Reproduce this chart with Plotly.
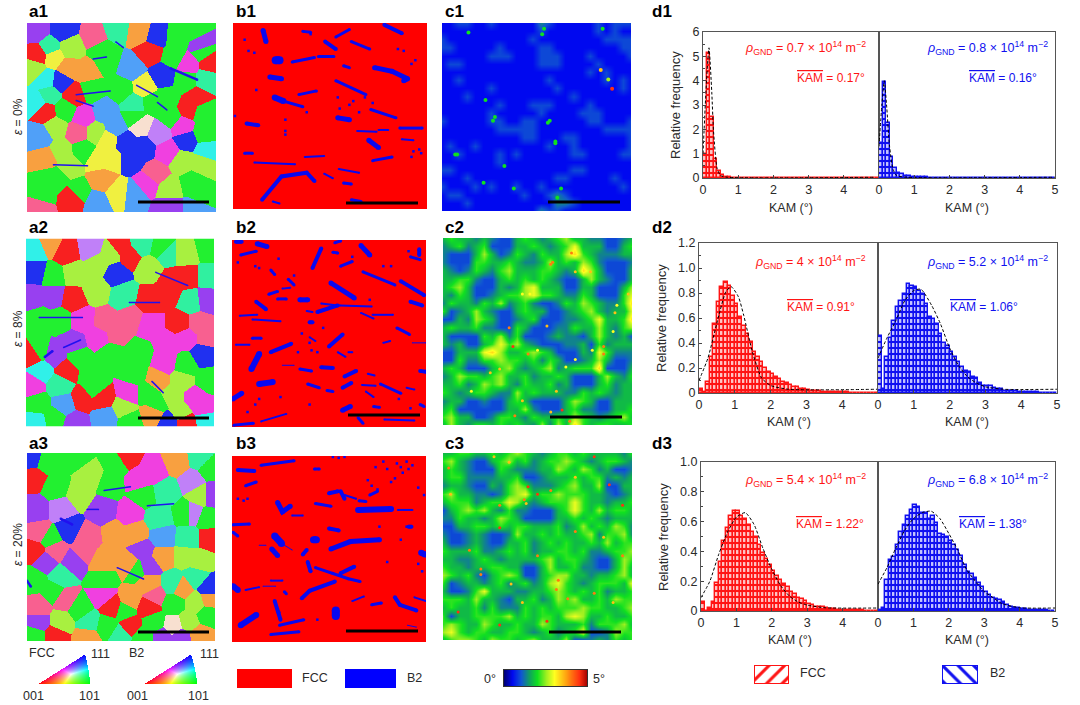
import numpy as np
import plotly.graph_objects as go

W, H = 1080, 705
FONT = "Liberation Sans"
TXT = "#2a2a2a"
FCC_RED = "#ff1414"
B2_BLUE = "#1010f0"

# --- orientation maps: grain centres (percent of panel) and colour letter ---
IPF_COLORS = dict(G="#22f030", L="#a8f040", Y="#f0f040", O="#f8a040", R="#f82020", P="#f86090",
                  M="#f040e0", V="#9840f0", B="#2030f0", S="#50a0f8", C="#30f0e8", T="#30f0a0",
                  W="#f8e0d0", K="#c080f8")
A1_GRAINS = [
    (5, 4, "V"), (12, 13, "T"), (19, 4, "B"), (23, 13, "L"), (36, 7, "P"), (47, 3, "T"), (40, 15, "G"), (68, 7, "B"),
    (60, 5, "O"), (80, 8, "G"), (92, 12, "V"), (88, 4, "G"), (6, 17, "R"), (14, 18, "Y"), (4, 24, "L"), (10, 30, "C"),
    (22, 24, "O"), (32, 26, "O"), (42, 20, "G"), (55, 24, "S"), (65, 15, "R"), (78, 18, "G"), (93, 15, "G"), (97, 21, "R"),
    (85, 22, "M"), (18, 31, "B"), (5, 42, "C"), (12, 38, "T"), (25, 38, "R"), (34, 35, "G"), (50, 35, "G"), (62, 34, "Y"),
    (72, 28, "B"), (84, 30, "G"), (95, 30, "T"), (74, 40, "G"), (66, 42, "G"), (10, 47, "R"), (20, 46, "G"), (30, 50, "M"),
    (41, 47, "S"), (57, 43, "T"), (57, 50, "G"), (76, 50, "G"), (90, 40, "R"), (93, 47, "G"), (86, 45, "R"), (15, 55, "L"),
    (27, 58, "P"), (36, 58, "L"), (47, 55, "S"), (60, 54, "W"), (70, 58, "K"), (82, 55, "M"), (94, 58, "G"), (7, 60, "S"),
    (18, 68, "L"), (30, 67, "G"), (43, 62, "Y"), (52, 63, "B"), (61, 66, "B"), (75, 68, "M"), (84, 62, "B"), (95, 68, "C"),
    (10, 72, "O"), (22, 75, "L"), (12, 82, "G"), (38, 72, "Y"), (44, 72, "Y"), (55, 72, "B"), (68, 80, "P"), (82, 73, "L"),
    (93, 74, "L"), (27, 90, "G"), (7, 90, "G"), (5, 97, "P"), (25, 92, "R"), (37, 95, "S"), (40, 83, "O"), (48, 90, "Y"),
    (57, 91, "S"), (64, 85, "M"), (75, 88, "L"), (88, 85, "G"), (92, 92, "G"), (15, 82, "G"), (75, 97, "V"), (90, 97, "S"),
]
A2_GRAINS = [
    (5, 5, "C"), (12, 2, "O"), (22, 7, "R"), (34, 5, "K"), (45, 8, "L"), (50, 4, "R"), (55, 9, "R"), (62, 3, "T"),
    (72, 5, "G"), (85, 8, "L"), (97, 5, "G"), (5, 18, "B"), (14, 20, "G"), (26, 18, "L"), (38, 13, "L"), (48, 18, "B"),
    (66, 15, "L"), (75, 8, "T"), (86, 20, "R"), (78, 22, "R"), (97, 20, "T"), (4, 30, "V"), (14, 30, "V"), (25, 32, "R"),
    (37, 27, "L"), (52, 30, "T"), (66, 33, "R"), (76, 28, "R"), (88, 33, "T"), (96, 32, "V"), (8, 43, "G"), (18, 43, "G"),
    (30, 43, "M"), (42, 44, "P"), (56, 42, "P"), (66, 45, "M"), (82, 45, "R"), (92, 45, "P"), (97, 52, "P"), (7, 60, "G"),
    (25, 55, "V"), (38, 52, "M"), (48, 50, "P"), (60, 62, "G"), (76, 55, "M"), (85, 52, "M"), (95, 62, "B"), (4, 62, "R"),
    (15, 62, "V"), (28, 64, "G"), (45, 62, "G"), (74, 66, "M"), (85, 68, "G"), (8, 70, "C"), (22, 70, "R"), (34, 72, "G"),
    (58, 72, "G"), (70, 75, "O"), (83, 75, "L"), (97, 75, "G"), (3, 78, "M"), (18, 78, "T"), (36, 80, "G"), (55, 82, "M"),
    (65, 82, "G"), (78, 84, "L"), (90, 85, "M"), (6, 88, "G"), (20, 88, "S"), (30, 85, "R"), (40, 85, "R"), (52, 90, "L"),
    (70, 88, "G"), (82, 92, "L"), (95, 90, "M"), (5, 97, "C"), (15, 95, "G"), (26, 98, "V"), (42, 95, "S"), (55, 97, "G"),
    (68, 93, "O"), (76, 97, "B"), (85, 98, "R"), (96, 96, "C"),
]
A3_GRAINS = [
    (3, 3, "B"), (10, 5, "G"), (25, 2, "G"), (33, 13, "L"), (48, 5, "G"), (52, 2, "R"), (60, 15, "M"), (68, 10, "M"),
    (80, 5, "O"), (92, 3, "T"), (97, 8, "G"), (4, 13, "R"), (15, 18, "G"), (28, 22, "L"), (44, 17, "G"), (62, 22, "G"),
    (74, 20, "T"), (88, 15, "K"), (92, 22, "L"), (98, 22, "V"), (5, 30, "V"), (18, 30, "K"), (40, 30, "V"), (55, 32, "M"),
    (70, 35, "T"), (85, 32, "G"), (96, 35, "G"), (88, 32, "K"), (7, 42, "P"), (22, 40, "B"), (12, 45, "G"), (32, 45, "P"),
    (47, 43, "O"), (58, 42, "O"), (72, 44, "S"), (86, 45, "T"), (97, 45, "R"), (4, 52, "R"), (15, 52, "P"), (30, 53, "P"),
    (44, 55, "O"), (62, 52, "V"), (72, 55, "O"), (85, 55, "L"), (92, 58, "L"), (10, 58, "V"), (25, 58, "V"), (40, 58, "O"),
    (55, 60, "O"), (65, 60, "V"), (18, 66, "T"), (4, 68, "G"), (40, 68, "G"), (58, 62, "G"), (65, 70, "O"), (78, 70, "T"),
    (90, 66, "T"), (97, 72, "B"), (14, 74, "G"), (20, 78, "P"), (40, 76, "M"), (55, 78, "O"), (68, 76, "P"), (82, 72, "O"),
    (6, 82, "P"), (28, 83, "G"), (45, 82, "R"), (52, 84, "G"), (65, 82, "R"), (78, 80, "G"), (90, 80, "L"), (97, 78, "O"),
    (6, 90, "V"), (18, 90, "L"), (33, 90, "T"), (42, 92, "G"), (55, 92, "R"), (68, 90, "G"), (78, 92, "W"), (86, 90, "L"),
    (96, 86, "G"), (4, 97, "G"), (15, 97, "R"), (32, 98, "O"), (50, 97, "T"), (62, 98, "G"), (72, 98, "V"), (82, 98, "V"),
    (92, 97, "O"),
]
A1_TWINS = [(1.5, [35, 42], [19, 18]), (1.5, [58, 69], [33, 39]), (1.5, [26, 35], [41, 44]), (1.5, [14, 32], [75, 75.5]),
            (1.5, [69, 74], [42, 46]), (1.5, [47, 51], [10, 13]), (1.5, [26, 44], [38, 36]), (2.5, [76, 90], [24, 30])]
A2_TWINS = [(1.5, [7, 30], [42, 42]), (1.5, [55, 71], [34, 34]), (1.5, [69, 86], [18, 25]), (1.5, [67, 73], [76, 82]),
            (1.5, [20, 29], [58, 54]), (2.5, [10, 14], [63, 60])]
A3_TWINS = [(1.5, [41, 55], [20, 18]), (1.5, [64, 78], [28, 27]), (1.5, [32, 38], [30, 30]), (1.5, [48, 62], [61, 67]),
            (2.5, [18, 24], [35, 38]), (2.5, [0, 2], [68, 71])]

# --- kernel average misorientation maps: each digit is 0.5 + 0.4 * digit degrees ---
C1_ROWS = [
    "001100100000210000010111", "000000000000100000010100", "100000000001000000001111",
    "110000010000110000000011", "000000111000111000100001", "011000000000111000010000",
    "000000000000000000101000", "001000000000010000001010", "000000100000001000000010",
    "000100000000000010000000", "000000010001110000100000", "000000100000100001110000",
    "100000110011000000110001", "000000011111000000001111", "000000000011000110000001",
    "010010000000010010000001", "001000010100000011000011", "000000010000000000000000",
    "110000000000000011000000", "000100000000001100000100", "100010100100100000000010",
    "011000000010012100000000", "000100000000002210000000", "000000000000211000000000",
]
C2_ROWS = [
    "343323211343234533221123", "234234111334323463331134", "211135312432433574322233",
    "211144334322353435421112", "321243245333443237531113", "334421134343432113532113",
    "345311132356333113311135", "324311234456443224311146", "243324352342112435432247",
    "412353211343311234532336", "113254311234111223463347", "343342211431112243353245",
    "311114352411123221353231", "323113464532111223142333", "113336753345431113264222",
    "114224454434243112353112", "343111345323452344471113", "235443453342334311135324",
    "334235453243342311134233", "432344322534333224343233", "233112113431111354311333",
    "341111113352111342211334", "453311244324334354323453", "353244343432525374344334",
]
C3_ROWS = [
    "334433434543234434333324", "453211345342344543234432", "343211143222335435423112",
    "344222233411233343442323", "233211324542223453351133", "453322124563445444332123",
    "344423446532344464332334", "134545324221113464353443", "224332354311113343432333",
    "113344343443334235343542", "211232112533434334524452", "311232113342343433435344",
    "433342234342334434223445", "332234323333453443211354", "433233443311353342211353",
    "543421345411345533233453", "412332342342356432344436", "311246333223345434342334",
    "444353321334235453343544", "343342422243434445443345", "413344445343443565334334",
    "454335433433543334244453", "564344334432342346112544", "345543544345333511232434",
]
# spots that the coarse rows above cannot hold (percent of panel)
C1_HOT_X = [14, 54, 53, 85, 23, 28, 27, 57, 56, 8, 7, 33, 38, 22, 63, 61, 84, 88, 90, 60, 60]
C1_HOT_Y = [5, 3, 6, 3, 41, 50, 52, 52, 53, 70, 70, 76, 88, 85, 88, 93, 25, 30, 35, 63, 64]
C1_HOT_V = [4, 4, 4, 4, 4, 4, 4, 4, 4, 4, 4, 4, 4, 4, 4, 4, 7, 5, 9, 4, 4]
C2_HOT_X = [58, 57, 42, 46, 35, 70, 98, 78, 79, 37, 45, 70, 85, 50, 55, 65, 30, 91, 85, 57, 15, 38, 60, 90, 92, 67, 63, 42, 25, 68]
C2_HOT_Y = [13, 14, 30, 30, 48, 18, 30, 18, 60, 58, 62, 65, 58, 60, 47, 69, 70, 40, 62, 93, 82, 95, 82, 50, 36, 98, 92, 87, 72, 8]
C2_HOT_V = [8, 8, 6, 6, 8, 7, 7, 7, 6, 9, 8, 6, 8, 6, 7, 6, 7, 7, 8, 7, 6, 8, 7, 6, 6, 8, 9, 7, 7, 8]
C3_HOT_X = [3, 27, 45, 43, 44, 30, 50, 57, 35, 14, 70, 80, 61, 95, 4, 20, 30, 60, 42, 70, 8, 20, 36, 55, 80, 90, 95, 88, 66, 85, 50, 30]
C3_HOT_Y = [8, 2, 18, 25, 27, 28, 22, 20, 5, 52, 13, 2, 68, 28, 22, 62, 92, 73, 80, 42, 85, 65, 70, 90, 75, 80, 55, 17, 78, 45, 55, 40]
C3_HOT_V = [8, 7, 9, 8, 7, 8, 9, 8, 7, 8, 7, 9, 8, 9, 7, 8, 9, 8, 7, 8, 9, 8, 7, 9, 8, 7, 8, 9, 8, 7, 8, 9]
KAM_SCALE = [[0, "#000078"], [0.1, "#0008f0"], [0.2, "#1058d0"], [0.3, "#10a060"], [0.4, "#10e020"],
             [0.5, "#a0f020"], [0.6, "#ffff20"], [0.75, "#ffa010"], [0.9, "#ff3010"], [1, "#a00000"]]
KAM_BAR = [0, 0.5, 1, 1.5, 2, 2.5, 3, 3.5, 4, 4.5, 5]

# --- B2 particles in the phase maps: thickness, then x, y along the particle (percent of panel) ---
B1_PARTICLES = [
    (5, [15.5, 17], [4, 10]), (3, [53, 60], [7.5, 3.5]), (3, [36, 40], [4.5, 5]), (4, [78, 87], [1, 5.5]),
    (4, [47.5, 53], [10, 14]), (3, [61, 70.5], [10, 14]), (8, [22, 24], [20, 20]), (3, [30.5, 42], [21, 18.5]),
    (3, [44, 52], [18, 18]), (3, [57, 60], [23, 24]), (5, [73, 82, 90, 88], [24, 26, 30, 31]),
    (5, [19, 25], [29, 30]), (3, [53, 68.5], [31, 38.5]), (3, [34, 43], [38.5, 36.5]), (6, [21.5, 26], [40, 42]),
    (3, [26, 36], [42, 45]), (3, [71, 84], [46.5, 51]), (5, [54, 60], [51, 52]), (4, [7, 13], [54, 55]),
    (2, [64, 74], [58, 58.5]), (2, [75, 80], [57.5, 57.5]), (3, [86, 97.5], [56.5, 56.5]), (2, [87, 93], [62.5, 63]),
    (5, [70, 75], [63, 67]), (3, [6, 10], [70, 70]), (2, [37, 47], [72, 71.5]), (3, [72, 82], [74, 72]),
    (2, [11, 32], [75, 76]), (4, [15, 25, 38, 42], [95, 82.5, 80.5, 85]), (2, [47, 51.5], [81, 83.5]),
    (2, [54.5, 65], [78.5, 80.5]), (3, [57, 61], [86, 86.5]), (3, [61, 66], [95, 96]), (2, [20.5, 24], [96, 97]),
]
B1_SPECKS_X = [6, 8, 11, 12, 27, 38, 40, 54, 55, 60, 62, 65, 68, 72, 85, 88, 92, 94, 96, 97, 1, 27, 27, 93, 92]
B1_SPECKS_Y = [9, 15, 16, 36, 52, 48, 6, 40, 46, 44, 42, 48, 40, 43, 14, 15, 22, 20, 68, 70, 50, 58, 60, 69, 72]
B2_PARTICLES = [
    (4, [2, 5], [1, 1]), (5, [13, 18], [2, 3.5]), (3, [4.5, 12.5], [8, 6]), (4, [41.5, 46], [15, 4.5]),
    (3, [53, 56], [1.5, 0.5]), (3, [52, 54.5], [6.5, 7]), (5, [66.5, 71], [3, 8]), (3, [56, 62], [14, 11.5]),
    (3, [92, 97], [9, 10.5]), (4, [96.5, 96.5], [5, 8]), (3, [20, 22], [16, 18.5]), (3, [29, 32], [21, 24]),
    (3, [67.5, 84], [17, 24]), (4, [87, 99], [22, 29.5]), (5, [51, 63], [23, 31]), (3, [19, 23.5], [29, 27.5]),
    (2, [26, 30], [26, 25.5]), (3, [23.5, 28], [31.5, 31.5]), (5, [35, 39], [32, 32]), (4, [12.5, 17.5], [33, 37]),
    (4, [44, 54.5], [38.5, 35]), (2, [46, 54.5], [34, 35]), (2, [55.5, 72], [35, 35.5]), (4, [92, 98], [33, 35]),
    (2, [66.5, 73], [39, 42]), (2, [72.5, 83], [40, 40]), (2, [4, 13], [40.5, 40]), (2, [10.5, 25], [42.5, 43.5]),
    (4, [40, 41.5], [44, 44]), (2, [38.5, 41.5], [38, 38.5]), (3, [85, 91.5], [47, 50.5]), (3, [10.5, 15], [52.5, 52.5]),
    (2, [40, 43], [52, 54]), (4, [50, 57], [57, 50.5]), (2, [2, 9], [56, 56]), (4, [20, 30.5], [60, 55.5]),
    (6, [10, 14], [69, 61]), (2, [54.5, 58.5], [60, 62.5]), (2, [60, 62], [60, 60]), (2, [78, 81.5], [55, 54]),
    (1, [93, 100], [55, 55]), (1, [26, 32], [67, 67]), (3, [35, 41], [69, 70]), (4, [46, 52], [68, 68.5]),
    (4, [58, 64], [73, 70]), (2, [70, 73.5], [71.5, 72.5]), (4, [97, 100], [70, 70.5]), (6, [14, 21], [77, 76]),
    (3, [39, 45], [77, 79]), (4, [57, 61.5], [79, 76.5]), (2, [67, 74], [77.5, 78]), (3, [76.5, 87], [77, 82]),
    (2, [90, 94], [79, 80]), (3, [49, 52], [80.5, 81]), (2, [69, 73], [81, 84]), (5, [0.5, 5], [85, 82]),
    (5, [57, 61], [91, 89]), (3, [73, 76], [89, 89.5]), (3, [97, 99], [88, 89]), (2, [15, 28], [97, 93]),
    (2, [78.5, 94], [96, 96.5]), (3, [65, 67.5], [95, 98]), (3, [1, 11], [99, 98]),
]
B2_SPECKS_X = [3, 12, 14, 24, 32, 36, 40, 41, 44, 47, 62, 71, 78, 82, 91, 14, 25, 34, 8, 12, 40, 86, 92]
B2_SPECKS_Y = [12, 14, 15, 10, 19, 50, 55, 59, 60, 47, 9, 32, 14, 14, 6, 85, 84, 60, 92, 88, 88, 85, 90]
B3_PARTICLES = [
    (4, [3, 11.5], [7.5, 8]), (3, [15, 32], [5, 2.5]), (3, [42.5, 45], [7, 7]), (3, [7, 12.5], [16, 14]),
    (4, [50, 54.5], [20, 19]), (4, [56, 58], [19, 23]), (2, [58, 64], [21, 23]), (3, [71, 75], [21, 19]),
    (3, [65.5, 69], [24, 24.5]), (5, [23.5, 26, 30], [25, 30, 27]), (3, [43, 51], [25.5, 27]), (6, [65, 82], [29, 28.5]),
    (2, [85.5, 93], [29, 29]), (2, [31, 36.5], [32, 32]), (3, [0.5, 9], [37, 36.5]), (4, [50, 55], [39, 40]),
    (4, [91, 92.5], [38, 38]), (3, [0.5, 3], [41, 43]), (7, [22, 25.5], [43, 47]), (1, [25.5, 31], [47, 50.5]),
    (7, [42, 43.5], [45, 45]), (5, [51, 61, 76], [50, 46, 45]), (1, [14, 17.5], [48, 48]), (5, [20.5, 23.5], [50, 53.5]),
    (4, [36.5, 38.5], [53, 50.5]), (6, [97.5, 99.5], [52, 53]), (4, [39, 40.5], [57, 62]),
    (3, [43, 52, 60, 66], [60, 63, 66, 67.5]), (4, [56, 63], [63, 59.5]), (2, [20, 26], [67, 67]), (6, [0.5, 3], [70, 72]),
    (2, [7, 14], [72, 70.5]), (1, [16, 22.5], [70, 70]), (4, [36, 40, 53], [76.5, 72.5, 67.5]), (3, [27, 28], [73, 74]),
    (2, [62, 68], [78, 75.5]), (3, [72, 77], [80, 79]), (4, [84, 86.5, 95], [76, 80, 83]), (2, [94, 100], [76, 78]),
    (4, [22, 24, 25], [78, 84, 88]), (8, [53.5, 53.5], [83, 86]), (6, [4.5, 12.5], [91, 85.5]), (3, [24.5, 37], [91, 88]),
    (3, [20, 34.5], [96, 94.5]), (1, [90.5, 95], [91, 92]),
]
B3_SPECKS_X = [52, 55, 58, 74, 78, 80, 85, 87, 88, 90, 91, 93, 96, 99, 70, 72, 75, 82, 84, 3, 6, 8, 96, 98, 87, 90, 44, 80, 76]
B3_SPECKS_Y = [0.5, 1, 0.5, 6, 3, 7, 4, 6, 9, 3, 7, 5, 17, 21, 13, 16, 18, 14, 12, 23, 24, 23, 58, 62, 45, 38, 88, 57, 38]

# --- histograms, 0.1 degree bins ---
KAM_BINS = [0.05 + 0.1 * i for i in range(50)]
D1_FCC = [1.0, 5.15, 2.5, 0.8, 0.3, 0.12, 0.05, 0.03, 0.02, 0.01] + [0.01] * 10 + [0.005] * 30
D1_B2 = [1.45, 3.95, 2.25, 0.88, 0.42, 0.2, 0.15, 0.1, 0.08, 0.06, 0.05, 0.04, 0.03, 0.03, 0.02, 0.02, 0.02, 0.015,
         0.015, 0.01] + [0.01] * 10 + [0.005] * 20
D2_FCC = [0.03, 0.005, 0.09, 0.29, 0.55, 0.73, 0.85, 0.89, 0.86, 0.78, 0.71, 0.61, 0.54, 0.47, 0.41, 0.33, 0.29, 0.25,
          0.2, 0.17, 0.15, 0.125, 0.11, 0.09, 0.08, 0.065, 0.05, 0.045, 0.035, 0.03, 0.025, 0.02, 0.018, 0.015, 0.012,
          0.01, 0.008, 0.008, 0.006, 0.006, 0.005, 0.005, 0.004, 0.004, 0.004, 0.003, 0.003, 0.003, 0.003, 0.003]
D2_B2 = [0.46, 0.03, 0.29, 0.44, 0.58, 0.69, 0.74, 0.79, 0.87, 0.86, 0.85, 0.82, 0.79, 0.71, 0.61, 0.59, 0.55, 0.47,
         0.4, 0.38, 0.33, 0.29, 0.25, 0.21, 0.18, 0.17, 0.13, 0.12, 0.08, 0.06, 0.06, 0.055, 0.04, 0.035, 0.03, 0.02,
         0.02, 0.02, 0.015, 0.012, 0.01, 0.008, 0.006, 0.005, 0.005, 0.004, 0.004, 0.003, 0.003, 0.003]
D3_FCC = [0.06, 0.0, 0.02, 0.06, 0.19, 0.33, 0.47, 0.56, 0.64, 0.67, 0.67, 0.64, 0.62, 0.575, 0.53, 0.5, 0.44, 0.39,
          0.35, 0.31, 0.27, 0.235, 0.205, 0.18, 0.16, 0.13, 0.115, 0.09, 0.08, 0.065, 0.05, 0.04, 0.03, 0.028, 0.024,
          0.02, 0.015, 0.012, 0.01, 0.008, 0.005, 0.005, 0.005, 0.004, 0.004, 0.004, 0.003, 0.003, 0.003, 0.003]
D3_B2 = [0.005, 0.02, 0.21, 0.34, 0.36, 0.44, 0.53, 0.58, 0.64, 0.68, 0.71, 0.7, 0.66, 0.66, 0.62, 0.64, 0.59, 0.52,
         0.51, 0.5, 0.47, 0.44, 0.41, 0.37, 0.31, 0.26, 0.25, 0.22, 0.19, 0.16, 0.13, 0.11, 0.09, 0.08, 0.075, 0.06,
         0.04, 0.03, 0.02, 0.02, 0.015, 0.012, 0.01, 0.008, 0.006, 0.005, 0.005, 0.004, 0.003, 0.003]

# --- dashed fits ---
D1_FCC_FIT_X = [0, 0.1, 0.17, 0.25, 0.3, 0.4, 0.5, 0.7, 4.9]
D1_FCC_FIT_Y = [1.0, 4.0, 5.35, 3.5, 1.9, 0.4, 0.1, 0.03, 0.03]
D1_B2_FIT_X = [0, 0.08, 0.15, 0.22, 0.3, 0.4, 0.5, 0.8, 5]
D1_B2_FIT_Y = [1.3, 3.0, 4.0, 2.9, 1.3, 0.35, 0.1, 0.03, 0.03]
D2_FCC_FIT_X = [0, 0.25, 0.5, 0.75, 0.9, 1.1, 1.25, 1.5, 1.75, 2, 2.5, 5]
D2_FCC_FIT_Y = [0.1, 0.28, 0.56, 0.81, 0.85, 0.77, 0.62, 0.32, 0.12, 0.06, 0.03, 0.03]
D2_B2_FIT_X = [0, 0.25, 0.5, 0.75, 1, 1.2, 1.5, 1.75, 2, 2.25, 2.5, 2.75, 3, 3.5, 5]
D2_B2_FIT_Y = [0.28, 0.44, 0.58, 0.74, 0.82, 0.83, 0.7, 0.55, 0.36, 0.22, 0.13, 0.08, 0.05, 0.03, 0.03]
D3_FCC_FIT_X = [0, 0.25, 0.5, 0.75, 1, 1.25, 1.5, 1.75, 2, 2.25, 2.5, 2.75, 3, 3.5, 5]
D3_FCC_FIT_Y = [0.09, 0.2, 0.38, 0.53, 0.63, 0.66, 0.58, 0.42, 0.28, 0.17, 0.1, 0.06, 0.04, 0.022, 0.02]
D3_B2_FIT_X = [0, 0.25, 0.5, 0.75, 1, 1.25, 1.5, 1.75, 2, 2.25, 2.5, 2.75, 3, 3.25, 3.5, 4, 5]
D3_B2_FIT_Y = [0.18, 0.29, 0.42, 0.54, 0.62, 0.66, 0.67, 0.62, 0.52, 0.41, 0.28, 0.2, 0.13, 0.09, 0.05, 0.022, 0.02]

D1_YTICKS = [0, 1, 2, 3, 4, 5, 6]
D2_YTICKS = [0, 0.2, 0.4, 0.6, 0.8, 1.0, 1.2]
D3_YTICKS = [0, 0.2, 0.4, 0.6, 0.8, 1.0]

fig = go.Figure()
layout = dict()
shapes, notes = [], []
n_axes = 0


def px(x):
    return x / W


def py(y):
    return 1 - y / H


def new_axes(x0, x1, y0, y1, xr, yr, **kw):
    # one pair of axes pinned to a pixel box of the page
    global n_axes
    n_axes += 1
    s = "" if n_axes == 1 else str(n_axes)
    base = dict(showticklabels=False, ticks="", showgrid=False, zeroline=False, showline=False)
    layout["xaxis" + s] = dict(base, domain=[px(x0), px(x1)], range=xr, anchor="y" + s, **kw.get("x", {}))
    layout["yaxis" + s] = dict(base, domain=[py(y1), py(y0)], range=yr, anchor="x" + s, **kw.get("y", {}))
    return "x" + s, "y" + s


def text(x, y, s, size=12.5, color=TXT, anchor="left", angle=0, bold=False):
    if bold:
        s = "<b>" + s + "</b>"
    notes.append(dict(x=px(x), y=py(y), xref="paper", yref="paper", text=s, showarrow=False, xanchor=anchor,
                      yanchor="middle", textangle=angle, font=dict(family=FONT, size=size, color=color)))


def scale_bar(x0, x1, y):
    shapes.append(dict(type="rect", xref="paper", yref="paper", x0=px(x0), x1=px(x1), y0=py(y - 1.5), y1=py(y + 1.5),
                       fillcolor="black", line=dict(width=0), layer="above"))


def add_lines(particles, xa, ya, color):
    for w, xs, ys in particles:
        # markers round off the line ends
        fig.add_trace(go.Scatter(x=xs, y=ys, mode="lines+markers", xaxis=xa, yaxis=ya, hoverinfo="skip",
                                 line=dict(color=color, width=w), marker=dict(color=color, size=w)))


def ipf_panel(grains, twins, box, bar):
    # each pixel takes the colour of its nearest grain centre
    size = 189
    cx = np.array([g[0] for g in grains])
    cy = np.array([g[1] for g in grains])
    colors = np.array([[int(IPF_COLORS[g[2]][i:i + 2], 16) for i in (1, 3, 5)] for g in grains])
    u = (np.arange(size) + 0.5) / size * 100
    gx, gy = np.meshgrid(u, u)
    near = np.argmin((gx[..., None] - cx) ** 2 + (gy[..., None] - cy) ** 2, axis=2)
    xa, ya = new_axes(*box, [0, 100], [100, 0])
    fig.add_trace(go.Image(z=colors[near].tolist(), x0=u[0], y0=u[0], dx=100 / size, dy=100 / size,
                           xaxis=xa, yaxis=ya, hoverinfo="skip"))
    add_lines(twins, xa, ya, "#2010f0")
    scale_bar(*bar)


def phase_panel(particles, sx, sy, box, bar):
    xa, ya = new_axes(*box, [0, 100], [100, 0])
    shapes.append(dict(type="rect", xref=xa, yref=ya, x0=0, x1=100, y0=0, y1=100, fillcolor="#ff0000",
                       line=dict(width=0), layer="below"))
    add_lines(particles, xa, ya, "#0808f0")
    fig.add_trace(go.Scatter(x=sx, y=sy, mode="markers", xaxis=xa, yaxis=ya, hoverinfo="skip",
                             marker=dict(color="#0808f0", size=2.5, symbol="square")))
    scale_bar(*bar)


def kam_panel(rows, hx, hy, hv, dot, box, bar):
    z = [[0.5 + 0.4 * int(c) for c in r.ljust(24, r[-1])[:24]] for r in rows]
    xa, ya = new_axes(*box, [0, 23], [23, 0])
    fig.add_trace(go.Heatmap(z=z, zmin=0, zmax=5, colorscale=KAM_SCALE, showscale=False, zsmooth="best",
                             xaxis=xa, yaxis=ya, hoverinfo="skip"))
    fig.add_trace(go.Scatter(x=[v * 0.23 for v in hx], y=[v * 0.23 for v in hy], mode="markers", xaxis=xa, yaxis=ya,
                             hoverinfo="skip",
                             marker=dict(color=[v * 0.5 for v in hv], cmin=0, cmax=5, colorscale=KAM_SCALE, size=dot)))
    scale_bar(*bar)


def hist_axes(box, ymax, yticks, minor, fmt):
    # frame and ticks for one half of a KAM panel
    x0, x1, y0, y1, last = box
    xtick = [0, 1, 2, 3, 4, 5] if last else [0, 1, 2, 3, 4]
    tick_font = dict(family=FONT, size=12.5, color=TXT)
    frame = dict(showline=True, linecolor="#555555", linewidth=1, mirror=True, ticks="inside", ticklen=3,
                 tickcolor="#444444", tickfont=tick_font)
    xdict = dict(frame, showticklabels=True, tickvals=xtick, ticktext=[str(v) for v in xtick])
    if last:
        ydict = dict(frame, showticklabels=False, tickvals=[], ticks="")
    else:
        ydict = dict(frame, showticklabels=True, tickvals=yticks, ticktext=[fmt(v) for v in yticks],
                     minor=dict(dtick=minor, ticks="inside", ticklen=2, tickcolor="#444444"))
    return new_axes(x0, x1, y0, y1, [0, 5], [0, ymax], x=xdict, y=ydict)


def hist_half(xa, ya, vals, fit_x, fit_y, color, pink):
    fig.add_trace(go.Bar(x=KAM_BINS, y=vals, width=0.1, xaxis=xa, yaxis=ya, hoverinfo="skip",
                         marker=dict(color=pink, line=dict(color=color, width=1.4),
                                     pattern=dict(shape="-", size=6, solidity=0.35, fgcolor=color, fgopacity=1,
                                                  bgcolor=pink))))
    fig.add_trace(go.Scatter(x=fit_x, y=fit_y, mode="lines", xaxis=xa, yaxis=ya, hoverinfo="skip",
                             line=dict(color="black", width=1, dash="3px,2px", shape="spline", smoothing=0.6)))


def ipf_key(x0, x1, apex):
    # colour key triangle: red at 001, green at 101, blue at 111
    nx, ny = 2 * (x1 - x0), 60
    img = np.zeros((ny, nx, 4), dtype=int)
    a = (apex - x0) / (x1 - x0)
    for j in range(ny):
        for i in range(nx):
            u, v = i / (nx - 1), 1 - j / (ny - 1)
            if v > u / a or u > 1 - (1 - a) * v ** 1.6:
                continue
            b = v
            g = max(u - a * v, 0)
            r = max(1 - b - g, 0)
            w = np.array([r, g, b]) ** 0.8
            w = w / max(w.max(), 1e-6)
            img[j, i] = [int(255 * w[0]), int(255 * w[1]), int(255 * w[2]), 255]
    xa, ya = new_axes(x0, x1, 654, 684, [0, nx], [ny, 0])
    fig.add_trace(go.Image(z=img.tolist(), colormodel="rgba", x0=0.5, y0=0.5, dx=1, dy=1, xaxis=xa, yaxis=ya,
                           hoverinfo="skip"))


# panel a
ipf_panel(A1_GRAINS, A1_TWINS, (27, 216, 23, 212), (138, 209, 202))
ipf_panel(A2_GRAINS, A2_TWINS, (26, 214, 238, 427), (138, 209, 418))
ipf_panel(A3_GRAINS, A3_TWINS, (27, 215, 453, 641), (138, 209, 632))
# panel b
phase_panel(B1_PARTICLES, B1_SPECKS_X, B1_SPECKS_Y, (233, 427, 23, 209), (346, 418, 203))
phase_panel(B2_PARTICLES, B2_SPECKS_X, B2_SPECKS_Y, (232, 426, 240, 427), (348, 420, 415))
phase_panel(B3_PARTICLES, B3_SPECKS_X, B3_SPECKS_Y, (232, 426, 456, 642), (346, 418, 631))
# panel c
kam_panel(C1_ROWS, C1_HOT_X, C1_HOT_Y, C1_HOT_V, 4, (442, 631, 23, 211), (548, 620, 202))
kam_panel(C2_ROWS, C2_HOT_X, C2_HOT_Y, C2_HOT_V, 3, (443, 632, 238, 425), (550, 622, 417))
kam_panel(C3_ROWS, C3_HOT_X, C3_HOT_Y, C3_HOT_V, 3, (443, 632, 453, 640), (549, 621, 632))

# panel d
RED_PINK, BLUE_PINK = "#ffc4c4", "#c4c4ff"
plain = lambda v: f"{v:.0f}"
dec = lambda v: "0" if v == 0 else f"{v:.1f}"
d_rows = [
    ((703, 879, 1055, 32, 178), 6, D1_YTICKS, 0.5, plain, D1_FCC, D1_B2,
     (D1_FCC_FIT_X, D1_FCC_FIT_Y), (D1_B2_FIT_X, D1_B2_FIT_Y)),
    ((699, 878, 1057, 243, 393), 1.2, D2_YTICKS, 0.1, dec, D2_FCC, D2_B2,
     (D2_FCC_FIT_X, D2_FCC_FIT_Y), (D2_B2_FIT_X, D2_B2_FIT_Y)),
    ((701, 878, 1055, 462, 611), 1.0, D3_YTICKS, 0.1, dec, D3_FCC, D3_B2,
     (D3_FCC_FIT_X, D3_FCC_FIT_Y), (D3_B2_FIT_X, D3_B2_FIT_Y)),
]
for (xl, xm, xr, yt, yb), ymax, yticks, minor, fmt, fcc, b2, fit_l, fit_r in d_rows:
    xa, ya = hist_axes((xl, xm, yt, yb, False), ymax, yticks, minor, fmt)
    hist_half(xa, ya, fcc, fit_l[0], fit_l[1], FCC_RED, RED_PINK)
    xa, ya = hist_axes((xm, xr, yt, yb, True), ymax, yticks, minor, fmt)
    hist_half(xa, ya, b2, fit_r[0], fit_r[1], B2_BLUE, BLUE_PINK)

# panel labels
for s, x, y in [("a1", 27, 11), ("b1", 234, 11), ("c1", 443, 11), ("d1", 650, 11),
                ("a2", 27, 227), ("b2", 234, 227), ("c2", 443, 227), ("d2", 650, 227),
                ("a3", 27, 443), ("b3", 234, 443), ("c3", 443, 443), ("d3", 650, 443)]:
    text(x, y, s, size=17, color="black", bold=True)
for s, y in [("0%", 117), ("8%", 329), ("20%", 545)]:
    text(18, y, "<i>ε</i> = " + s, size=12, anchor="center", angle=-90)

# density and KAM labels
RHO = "<i>ρ</i><sub>GND</sub> = {} × 10<sup>14</sup> m<sup>−2</sup>"
KAM = '<span style="text-decoration:overline">KAM</span> = {}°'
for v, y, color, rx in [("0.7", 48, FCC_RED, 868), ("0.8", 48, B2_BLUE, 1050),
                        ("4", 262, FCC_RED, 868), ("5.2", 262, B2_BLUE, 1050),
                        ("5.4", 480, FCC_RED, 868), ("6.8", 480, B2_BLUE, 1050)]:
    text(rx, y, RHO.format(v), size=12.5, color=color, anchor="right")
for v, y, kx, color in [("0.17", 78, 795, FCC_RED), ("0.16", 78, 967, B2_BLUE),
                        ("0.91", 307, 785, FCC_RED), ("1.06", 307, 948, B2_BLUE),
                        ("1.22", 524, 794, FCC_RED), ("1.38", 524, 957, B2_BLUE)]:
    text(kx, y, KAM.format(v), size=12, color=color)
for x, y in [(791, 208), (967, 208), (789, 422), (967, 422), (790, 640), (967, 640)]:
    text(x, y, "KAM (°)", anchor="center")
for x, y in [(675, 105), (661, 318), (663, 537)]:
    text(x, y, "Relative frequency", size=13, anchor="center", angle=-90)

# colour keys along the bottom
ipf_key(38, 90, 85)
ipf_key(144, 197, 191)
for s, x, y in [("FCC", 27, 653), ("111", 89, 654), ("001", 21, 696), ("101", 77, 696),
                ("B2", 127, 653), ("111", 198, 654), ("001", 125, 696), ("101", 186, 696)]:
    text(x, y, s)

shapes.append(dict(type="rect", xref="paper", yref="paper", x0=px(237), x1=px(292), y0=py(688), y1=py(669),
                   fillcolor="#ff0000", line=dict(width=0)))
shapes.append(dict(type="rect", xref="paper", yref="paper", x0=px(345), x1=px(396), y0=py(688), y1=py(669),
                   fillcolor="#0000ff", line=dict(width=0)))
text(300, 678, "FCC")
text(405, 678, "B2")

bar_frame = dict(showline=True, linecolor="#333333", linewidth=1, mirror=True)
xa, ya = new_axes(504, 587, 670, 686, [0, 5], [0, 1], x=bar_frame, y=bar_frame)
fig.add_trace(go.Heatmap(x=KAM_BAR, y=[0, 1], z=[KAM_BAR, KAM_BAR], zmin=0, zmax=5, colorscale=KAM_SCALE,
                         showscale=False, zsmooth="best", xaxis=xa, yaxis=ya, hoverinfo="skip"))
text(498, 679, "0°", anchor="right")
text(591, 679, "5°")

for x0, x1, shape, color in [(754, 789, "/", FCC_RED), (942, 978, "\\", B2_BLUE)]:
    xa, ya = new_axes(x0, x1, 665, 684, [-0.5, 0.5], [0, 1])
    fig.add_trace(go.Bar(x=[0], y=[1], width=1, xaxis=xa, yaxis=ya, hoverinfo="skip",
                         marker=dict(color="white", line=dict(color=color, width=2),
                                     pattern=dict(shape=shape, size=11, solidity=0.28, fgcolor=color, fgopacity=1,
                                                  bgcolor="white"))))
text(798, 673, "FCC")
text(988, 673, "B2")

fig.update_layout(width=W, height=H, margin=dict(l=0, r=0, t=0, b=0, autoexpand=False), paper_bgcolor="white",
                  plot_bgcolor="rgba(0,0,0,0)", showlegend=False, barmode="overlay", bargap=0, shapes=shapes,
                  annotations=notes, font=dict(family=FONT, color=TXT), **layout)
# the browser's default body margin would push the 1080x705 figure off the page
fig.write_html("out.html", config=dict(displayModeBar=False), post_script="document.body.style.margin = '0';")
